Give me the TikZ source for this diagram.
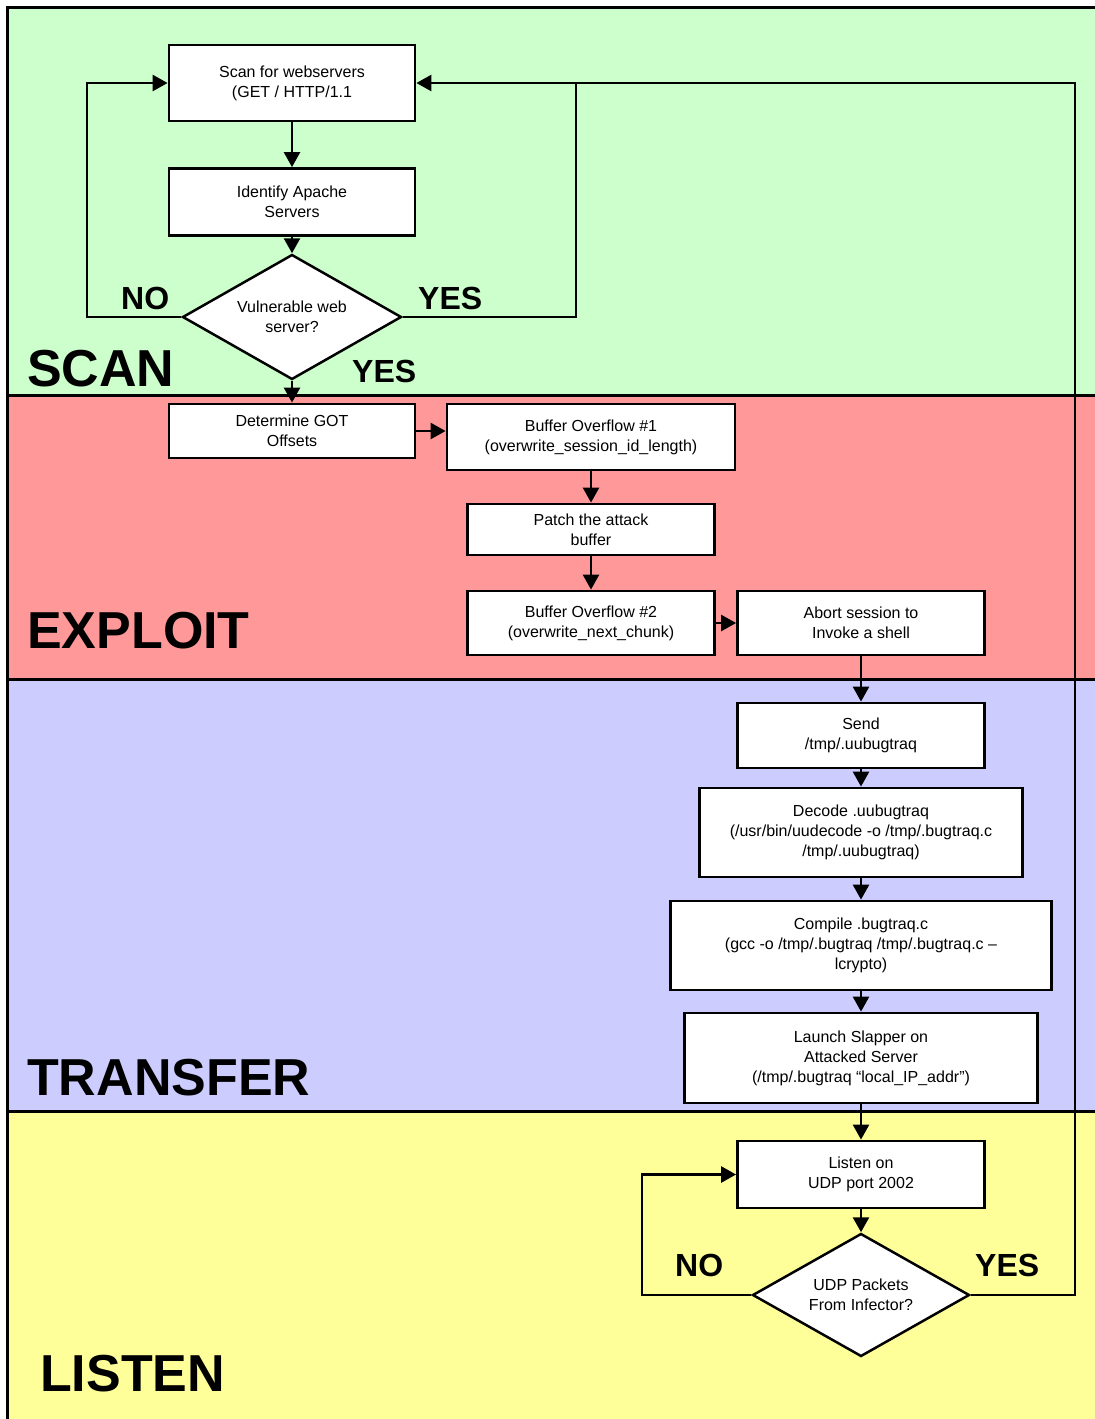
\documentclass[tikz,border=0pt]{standalone}
\usepackage{fontspec}
\setmainfont{Liberation Sans}
\usetikzlibrary{shapes.geometric,arrows.meta}
\definecolor{scanc}{RGB}{204,255,204}
\definecolor{exploitc}{RGB}{255,153,153}
\definecolor{transc}{RGB}{204,204,255}
\definecolor{listenc}{RGB}{255,255,153}
\begin{document}
\begin{tikzpicture}[x=1pt,y=-1pt,
  box/.style={draw,line width=2.8pt,fill=white,align=center,inner sep=0pt,font=\fontsize{16}{20}\selectfont},
  dec/.style={diamond,aspect=1.75,draw,line width=2.5pt,fill=white,align=center,inner sep=0pt,font=\fontsize{16}{20}\selectfont},
  conn/.style={line width=2.6pt,-{Triangle[width=16pt,length=15pt]}},
  plainline/.style={line width=2.6pt,line join=miter},
  band/.style={draw,line width=3pt},
  lab/.style={font=\fontsize{52}{52}\selectfont\bfseries,anchor=base west,inner sep=0pt},
  yn/.style={font=\fontsize{32}{32}\selectfont\bfseries,anchor=base west,inner sep=0pt}]
\useasboundingbox (0,0) rectangle (1095,1419);
% bands
\draw[band,fill=scanc] (7,7) rectangle (1110,395);
\draw[band,fill=exploitc] (7,395) rectangle (1110,679);
\draw[band,fill=transc] (7,679) rectangle (1110,1111);
\draw[band,fill=listenc] (7,1111) rectangle (1110,1440);
% labels
\node[lab] (lscan) at (27,386) {SCAN};
\node[lab] (lexploit) at (27,648) {EXPLOIT};
\node[lab] (ltransfer) at (27,1095) {TRANSFER};
\node[lab] (llisten) at (40,1391) {LISTEN};
% nodes
\node[box,minimum width=246pt,minimum height=76pt] (scan) at (292,83) {Scan for webservers\\(GET / HTTP/1.1};
\node[box,minimum width=246pt,minimum height=67pt] (ident) at (292,202) {Identify Apache\\Servers};
\node[dec,minimum width=219pt,minimum height=125pt] (d1) at (292,317) {Vulnerable web\\server?};
\node[box,minimum width=246pt,minimum height=54pt] (det) at (292,431) {Determine GOT\\Offsets};
\node[box,minimum width=288pt,minimum height=66pt] (buf1) at (591,437) {Buffer Overflow \#1\\(overwrite\_session\_id\_length)};
\node[box,minimum width=247pt,minimum height=51pt] (patch) at (591,529.5) {Patch the attack\\buffer};
\node[box,minimum width=247pt,minimum height=64pt] (buf2) at (591,623) {Buffer Overflow \#2\\(overwrite\_next\_chunk)};
\node[box,minimum width=247pt,minimum height=64pt] (abort) at (861,623) {Abort session to\\Invoke a shell};
\node[box,minimum width=247pt,minimum height=65pt] (send) at (861,735.5) {Send\\/tmp/.uubugtraq};
\node[box,minimum width=323pt,minimum height=89pt] (decode) at (861,832.5) {Decode .uubugtraq\\(/usr/bin/uudecode -o /tmp/.bugtraq.c\\/tmp/.uubugtraq)};
\node[box,minimum width=381pt,minimum height=89pt] (compile) at (861,945.5) {Compile .bugtraq.c\\(gcc -o /tmp/.bugtraq /tmp/.bugtraq.c –\\lcrypto)};
\node[box,minimum width=353pt,minimum height=90pt] (launch) at (861,1058) {Launch Slapper on\\Attacked Server\\(/tmp/.bugtraq “local\_IP\_addr”)};
\node[box,minimum width=247pt,minimum height=67pt] (listen) at (861,1174.5) {Listen on\\UDP port 2002};
\node[dec,minimum width=217pt,minimum height=123pt] (d2) at (861,1295) {UDP Packets\\From Infector?};
% yes/no labels
\node[yn] (no1) at (121,309) {NO};
\node[yn] (yes1) at (418,309) {YES};
\node[yn] (yes2) at (352,382) {YES};
\node[yn] (no2) at (675,1276) {NO};
\node[yn] (yes2b) at (975,1276) {YES};
% connectors
\draw[conn] (scan.south) -- (ident.north);
\draw[conn] (ident.south) -- (d1.north);
\draw[conn] (d1.south) -- (det.north);
\draw[conn] (det.east) -- (det.east -| buf1.west);
\draw[conn] (buf1.south) -- (patch.north);
\draw[conn] (patch.south) -- (buf2.north);
\draw[conn] (buf2.east) -- (abort.west);
\draw[conn] (abort.south) -- (send.north);
\draw[conn] (send.south) -- (decode.north);
\draw[conn] (decode.south) -- (compile.north);
\draw[conn] (compile.south) -- (launch.north);
\draw[conn] (launch.south) -- (listen.north);
\draw[conn] (listen.south) -- (d2.north);
\coordinate (cl1) at (87,83);
\coordinate (cr1) at (576,83);
\coordinate (cbig) at (1075,83);
\coordinate (cl2) at (642,1174.5);
\draw[conn] (d1.west) -| (cl1) -- (scan.west);
\draw[plainline] (d1.east) -| (cr1);
\draw[conn] (d2.east) -| (cbig) -- (scan.east);
\draw[conn] (d2.west) -| (cl2) -- (listen.west);
\end{tikzpicture}
\end{document}
